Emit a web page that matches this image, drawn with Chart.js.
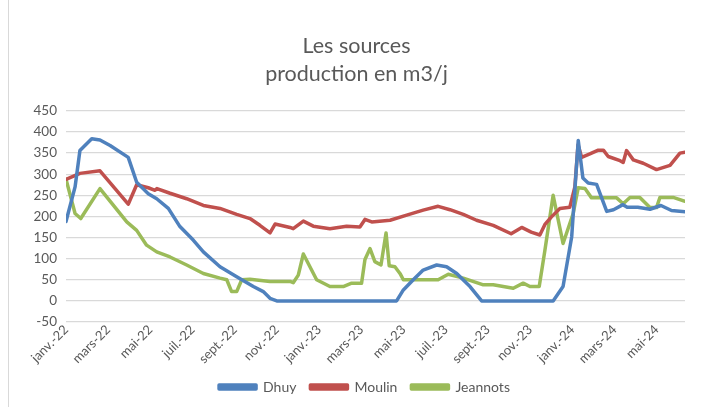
<!DOCTYPE html>
<html>
<head>
<meta charset="utf-8">
<script src="https://cdn.jsdelivr.net/npm/chart.js@4"></script>
<style>
    body { margin: 0; background: #fff; }
</style>
</head>
<body>
<canvas id="sources" width="710" height="407"></canvas>
<script>
// mois depuis janv. 2022 (0 = 1er janvier 2022)
const dhuyMois = [0, 0.43, 0.66, 1.22, 1.61, 2.09, 2.95, 3.35, 3.9, 4.3, 4.85, 5.4, 6.03, 6.51, 7.3, 8.09, 8.88, 9.35, 9.67, 9.99,
    15.67, 15.99, 16.46, 16.93, 17.57, 18.04, 18.52, 19.15, 19.7, 23.09, 23.56, 23.97, 24.28, 24.5, 24.75, 25.15, 25.63, 25.95,
    26.4, 26.6, 27.1, 27.68, 28.2, 28.7, 29.34];
const dhuyDebit = [188, 270, 356, 384, 381, 368, 340, 281, 254, 242, 219, 176, 144, 116, 81, 57, 34, 22, 6, 0,
    0, 26, 50, 73, 85, 81, 65, 34, 0, 0, 34, 152, 380, 291, 279, 276, 212, 216,
    228, 222, 222, 217, 226, 214, 211];

const moulinMois = [0, 0.66, 1.61, 2.95, 3.35, 3.9, 4.22, 4.31, 4.93, 5.72, 6.51, 7.3, 8.09, 8.72, 9.19, 9.67, 9.91, 10.62,
    10.77, 11.25, 11.72, 12.51, 13.3, 13.93, 14.17, 14.49, 15.36, 16.15, 16.93, 17.64, 18.2, 18.83, 19.46, 20.25, 21.1, 21.6,
    22.05, 22.46, 22.7, 23.01, 23.41, 23.88, 24.12, 24.27, 24.44, 24.83, 25.23, 25.47, 25.7, 26.26, 26.41, 26.57, 26.89,
    27.36, 27.99, 28.63, 29.1, 29.34];
const moulinDebit = [288, 302, 308, 229, 275, 268, 262, 266, 255, 242, 226, 219, 205, 195, 179, 161, 182, 174,
    171, 189, 177, 171, 177, 175, 193, 187, 191, 203, 215, 224, 216, 205, 191, 179, 159, 174,
    163, 156, 181, 199, 219, 222, 270, 370, 340, 348, 357, 357, 342, 332, 328, 356, 334,
    326, 311, 321, 350, 352];

const jeannotsMois = [0, 0.43, 0.7, 1.61, 2.88, 3.35, 3.82, 4.3, 4.93, 5.72, 6.51, 7.3, 7.62, 7.85, 8.09, 8.33, 8.72, 9.67,
    10.62, 10.77, 11.01, 11.25, 11.88, 12.51, 13.14, 13.54, 14.01, 14.17, 14.41, 14.64, 14.93, 15.17, 15.32, 15.59, 15.83,
    15.99, 17.64, 18.12, 18.83, 19.78, 20.25, 21.2, 21.67, 21.99, 22.43, 22.7, 23.09, 23.56, 24.04, 24.28, 24.6, 24.91,
    26.1, 26.41, 26.73, 27.2, 27.68, 27.99, 28.15, 28.78, 29.34];
const jeannotsDebit = [288, 207, 195, 266, 187, 167, 132, 116, 104, 85, 65, 54, 50, 22, 22, 50, 51, 46,
    46, 43, 61, 111, 50, 34, 34, 42, 42, 98, 124, 93, 85, 161, 83, 81, 65,
    50, 50, 63, 54, 38, 38, 30, 42, 34, 34, 120, 250, 136, 207, 268, 266, 244,
    244, 230, 245, 245, 221, 221, 245, 245, 236];

const tickMois = [0, 2, 4, 6, 8, 10, 12, 14, 16, 18, 20, 22, 24, 26, 28];
const tickLabels = ['janv.-22', 'mars-22', 'mai-22', 'juil.-22', 'sept.-22', 'nov.-22', 'janv.-23', 'mars-23',
    'mai-23', 'juil.-23', 'sept.-23', 'nov.-23', 'janv.-24', 'mars-24', 'mai-24'];

const gris = '#595959';
const police = 'Lato, "Open Sans", sans-serif';

function points(mois, debit) {
    return mois.map((m, i) => ({ x: m, y: debit[i] }));
}

function serie(label, couleur, mois, debit) {
    return {
        label: label,
        data: points(mois, debit),
        borderColor: couleur,
        backgroundColor: couleur,
        borderWidth: 3.5,
        pointRadius: 0,
        tension: 0,
        borderJoinStyle: 'round',
        borderCapStyle: 'round'
    };
}

// fond blanc + bord gauche du cadre, légende un peu décalée à droite
const cadre = {
    id: 'cadre',
    afterLayout(chart) {
        chart.legend.left += 8;
        chart.legend.right += 8;
    },
    beforeDraw(chart) {
        const c = chart.ctx;
        c.save();
        c.fillStyle = '#fff';
        c.fillRect(0, 0, chart.width, chart.height);
        c.strokeStyle = '#d9d9d9';
        c.lineWidth = 1;
        c.beginPath();
        c.moveTo(8.5, 0);
        c.lineTo(8.5, chart.height);
        c.stroke();
        c.restore();
    }
};

new Chart(document.getElementById('sources').getContext('2d'), {
    type: 'line',
    data: {
        datasets: [
            serie('Dhuy', '#4F81BD', dhuyMois, dhuyDebit),
            serie('Moulin', '#C0504D', moulinMois, moulinDebit),
            serie('Jeannots', '#9BBB59', jeannotsMois, jeannotsDebit)
        ]
    },
    options: {
        responsive: false,
        animation: false,
        layout: {
            padding: { left: 28, right: 25, top: 17, bottom: 3 }
        },
        scales: {
            x: {
                type: 'linear',
                min: 0,
                max: 29.34,
                afterBuildTicks: scale => {
                    scale.ticks = tickMois.map(v => ({ value: v }));
                },
                afterFit: scale => { scale.height = 44; },
                grid: { display: false, drawTicks: false },
                border: { display: false },
                ticks: {
                    autoSkip: false,
                    minRotation: 45,
                    maxRotation: 45,
                    padding: 0,
                    color: gris,
                    font: { family: police, size: 13 },
                    callback: value => tickLabels[tickMois.indexOf(value)]
                }
            },
            y: {
                min: -50,
                max: 450,
                afterFit: scale => { scale.width = 38; },
                grid: { color: '#d9d9d9', lineWidth: 1.3, drawTicks: false },
                border: { display: false },
                ticks: {
                    stepSize: 50,
                    padding: 9,
                    color: gris,
                    font: { family: police, size: 13.5 }
                }
            }
        },
        plugins: {
            title: {
                display: true,
                text: ['Les sources', 'production en m3/j'],
                color: gris,
                font: { family: police, size: 21.5, weight: 'normal', lineHeight: 1.3 },
                padding: { top: 15, bottom: 23 }
            },
            legend: {
                position: 'bottom',
                labels: {
                    boxWidth: 37,
                    boxHeight: 4,
                    padding: 14,
                    color: gris,
                    font: { family: police, size: 14 }
                }
            },
            tooltip: { enabled: false }
        }
    },
    plugins: [cadre]
});
</script>
</body>
</html>
